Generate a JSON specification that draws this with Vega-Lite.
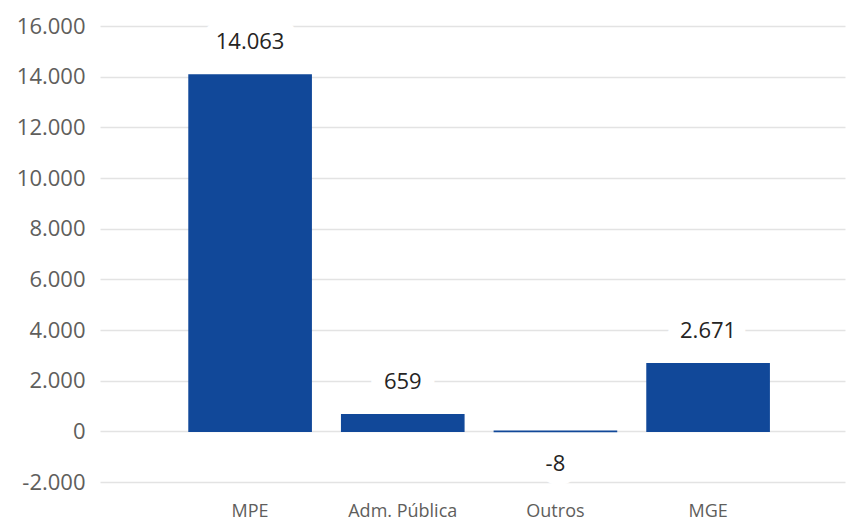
{
  "$schema": "https://vega.github.io/schema/vega-lite/v6.json",
  "width": 745,
  "height": 456,
  "autosize": "none",
  "padding": {"left": 100, "top": 26, "right": 4, "bottom": 42},
  "background": "white",
  "config": {
    "locale": {"number": {"decimal": ",", "thousands": ".", "grouping": [3], "currency": ["R$", ""], "minus": "-"}},
    "view": {"stroke": null},
    "font": "Open Sans"
  },
  "data": {
    "values": [
      {"categoria": "MPE", "valor": 14063},
      {"categoria": "Adm. Pública", "valor": 659},
      {"categoria": "Outros", "valor": -8},
      {"categoria": "MGE", "valor": 2671}
    ]
  },
  "encoding": {
    "x": {
      "field": "categoria",
      "type": "nominal",
      "sort": null,
      "scale": {"paddingInner": 0.2, "paddingOuter": 0.54, "align": 0.54},
      "axis": {
        "title": null,
        "labelAngle": 0,
        "labelFontSize": 18,
        "labelColor": "#605E5C",
        "domain": false,
        "ticks": false,
        "tickSize": 0,
        "labelPadding": 20,
        "grid": false
      }
    },
    "y": {
      "field": "valor",
      "type": "quantitative",
      "scale": {"domain": [-2000, 16000], "nice": false},
      "axis": {
        "title": null,
        "values": [-2000, 0, 2000, 4000, 6000, 8000, 10000, 12000, 14000, 16000],
        "format": ",d",
        "labelFontSize": 22,
        "labelColor": "#605E5C",
        "grid": true,
        "gridColor": "#E3E3E3",
        "gridWidth": 1.5,
        "domain": false,
        "ticks": false,
        "tickSize": 0,
        "labelPadding": 15
      }
    },
    "text": {"field": "valor", "type": "quantitative", "format": ",d"}
  },
  "layer": [
    {"mark": {"type": "bar", "color": "#114899", "stroke": "#114899", "strokeWidth": 1.5}, "encoding": {"text": null}},
    {
      "transform": [{"filter": "datum.valor >= 0"}],
      "mark": {"type": "text", "dy": -33, "baseline": "middle", "fontSize": 22, "fill": "white", "stroke": "white", "strokeWidth": 28, "strokeJoin": "round"}
    },
    {
      "transform": [{"filter": "datum.valor < 0"}],
      "mark": {"type": "text", "dy": 32, "baseline": "middle", "fontSize": 22, "fill": "white", "stroke": "white", "strokeWidth": 28, "strokeJoin": "round"}
    },
    {
      "transform": [{"filter": "datum.valor >= 0"}],
      "mark": {"type": "text", "dy": -33, "baseline": "middle", "fontSize": 22, "color": "#252423"}
    },
    {
      "transform": [{"filter": "datum.valor < 0"}],
      "mark": {"type": "text", "dy": 32, "baseline": "middle", "fontSize": 22, "color": "#252423"}
    }
  ]
}
